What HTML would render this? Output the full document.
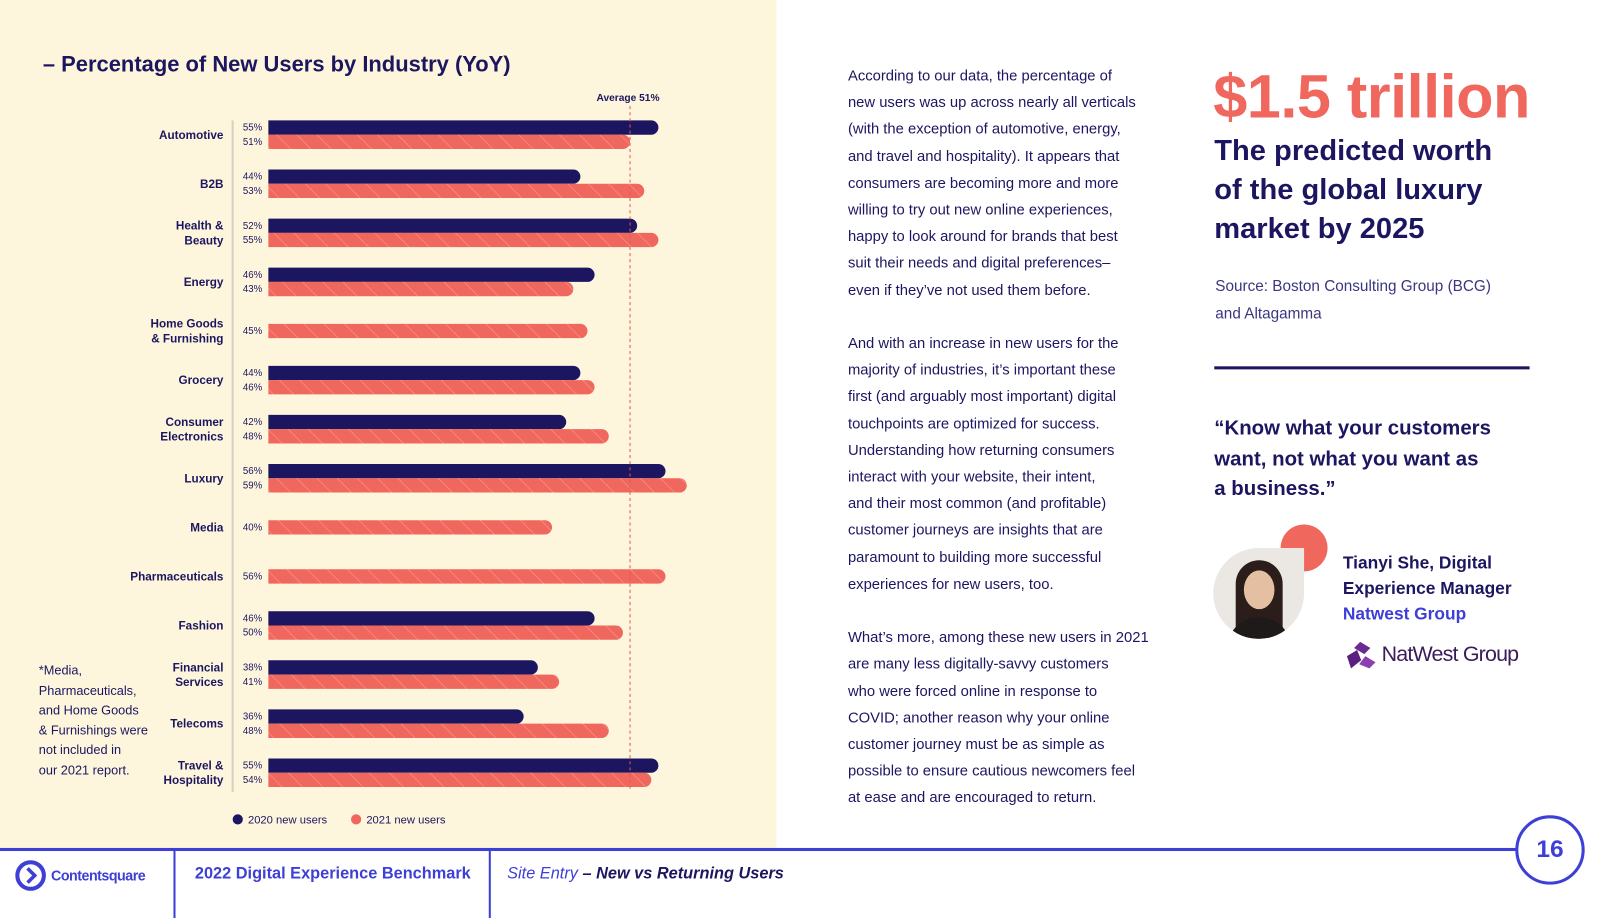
<!DOCTYPE html>
<html><head><meta charset="utf-8"><style>
*{margin:0;padding:0;box-sizing:border-box}
body{width:1600px;height:900px;position:relative;background:#fff;font-family:"Liberation Sans",sans-serif;color:#1c1660;overflow:hidden}
#wrap{position:absolute;left:0;top:0;width:1568px;height:882px;transform:scale(1.0204);transform-origin:0 0}
.abs{position:absolute}
.p{font-size:14.5px;line-height:26.2px;color:#1c1660;white-space:nowrap}
</style></head><body>
<div id="wrap">
<div class="abs" style="left:0;top:0;width:761px;height:832px;background:#fdf6dc"></div>
<div class="abs" style="left:42px;top:51px;font-size:21.5px;font-weight:bold;color:#1c1660">– Percentage of New Users by Industry (YoY)</div>
<svg class="abs" style="left:0;top:0" width="761" height="832">
<defs><pattern id="hatch" width="14" height="14" patternUnits="userSpaceOnUse" patternTransform="rotate(-45)"><rect width="14" height="14" fill="#f0675e"/><line x1="0" y1="0" x2="0" y2="14" stroke="#f6a39b" stroke-width="1"/></pattern></defs>
<g id="g"></g>
</svg>
<div class="abs" style="left:38px;top:648px;font-size:12.5px;line-height:19.6px;color:#1c1660">*Media,<br>Pharmaceuticals,<br>and Home Goods<br>&amp; Furnishings were<br>not included in<br>our 2021 report.</div>
<div class="abs p" style="left:831px;top:62px">According to our data, the percentage of<br>new users was up across nearly all verticals<br>(with the exception of automotive, energy,<br>and travel and hospitality). It appears that<br>consumers are becoming more and more<br>willing to try out new online experiences,<br>happy to look around for brands that best<br>suit their needs and digital preferences–<br>even if they’ve not used them before.<br><br>And with an increase in new users for the<br>majority of industries, it’s important these<br>first (and arguably most important) digital<br>touchpoints are optimized for success.<br>Understanding how returning consumers<br>interact with your website, their intent,<br>and their most common (and profitable)<br>customer journeys are insights that are<br>paramount to building more successful<br>experiences for new users, too.<br><br>What’s more, among these new users in 2021<br>are many less digitally-savvy customers<br>who were forced online in response to<br>COVID; another reason why your online<br>customer journey must be as simple as<br>possible to ensure cautious newcomers feel<br>at ease and are encouraged to return.</div>
<div class="abs" style="left:1189px;top:60px;font-size:60px;font-weight:bold;color:#f0675e;letter-spacing:-0.5px">$1.5 trillion</div>
<div class="abs" style="left:1190px;top:129px;font-size:28.5px;line-height:38px;font-weight:bold;color:#1c1660">The predicted worth<br>of the global luxury<br>market by 2025</div>
<div class="abs" style="left:1191px;top:267px;font-size:15px;line-height:27px;color:#3a3680">Source: Boston Consulting Group (BCG)<br>and Altagamma</div>
<div class="abs" style="left:1190px;top:359px;width:309px;height:3px;background:#1c1660"></div>
<div class="abs" style="left:1190px;top:406px;font-size:20px;line-height:29.5px;font-weight:bold;color:#1c1660">“Know what your customers<br>want, not what you want as<br>a business.”</div>
<div class="abs" style="left:1255px;top:514px;width:46px;height:46px;border-radius:50%;background:#f0675e"></div>
<div class="abs" style="left:1189px;top:537px;width:89px;height:89px;border-radius:50% 0 50% 50%;overflow:hidden;background:#ebe8e3">
<div style="position:absolute;left:22px;top:12px;width:46px;height:80px;border-radius:23px 23px 8px 8px;background:#2a1d1a"></div>
<div style="position:absolute;left:30px;top:22px;width:30px;height:38px;border-radius:50%;background:#e4bfa2"></div>
<div style="position:absolute;left:14px;top:68px;width:62px;height:30px;border-radius:30px 30px 0 0;background:#1e1a1a"></div></div>
<div class="abs" style="left:1316px;top:539px;font-size:17px;line-height:25px;font-weight:bold;color:#1c1660">Tianyi She, Digital<br>Experience Manager<br><span style="color:#3d3fd6">Natwest Group</span></div>
<div class="abs" style="left:1316px;top:627px;height:30px;display:flex;align-items:center">
<svg width="34" height="30"><polygon points="17,2 27,8 21,14 11,8" fill="#6b2c91"/><polygon points="4,16 14,10 18,20 8,28" fill="#5a1f80"/><polygon points="22,16 32,22 26,28 16,24" fill="#8b3fb0"/></svg>
<span style="font-size:21px;color:#3a1c5a;margin-left:4px;letter-spacing:-0.8px">NatWest Group</span></div>
<div class="abs" style="left:0;top:831px;width:1490px;height:3px;background:#3d3fd6"></div>
<div class="abs" style="left:170px;top:833px;width:2px;height:67px;background:#3d3fd6"></div>
<div class="abs" style="left:479px;top:833px;width:2px;height:67px;background:#3d3fd6"></div>
<div class="abs" style="left:14px;top:842px;display:flex;align-items:center;color:#3d3fd6;font-weight:bold;font-size:14px">
<svg width="32" height="32"><circle cx="16" cy="16" r="13" fill="none" stroke="#3d3fd6" stroke-width="4"/><path d="M13 9 L20 16 L13 23" fill="none" stroke="#3d3fd6" stroke-width="3.5"/></svg><span style="margin-left:4px;letter-spacing:-0.5px">Contentsquare</span></div>
<div class="abs" style="left:191px;top:848px;font-size:16px;font-weight:bold;color:#3d3fd6">2022 Digital Experience Benchmark</div>
<div class="abs" style="left:497px;top:848px;font-size:16px;font-style:italic;color:#3d3fd6">Site Entry <b style="color:#1c1660">– New vs Returning Users</b></div>
<div class="abs" style="left:1485px;top:799px;width:68px;height:68px;border:3px solid #3d3fd6;border-radius:50%;background:#fff;text-align:center;line-height:62px;font-size:24px;font-weight:bold;color:#3d3fd6">16</div>
</div>
<script>
const categories=["Automotive","B2B","Health & Beauty","Energy","Home Goods & Furnishing","Grocery","Consumer Electronics","Luxury","Media","Pharmaceuticals","Fashion","Financial Services","Telecoms","Travel & Hospitality"];
const labelLines=[["Automotive"],["B2B"],["Health &","Beauty"],["Energy"],["Home Goods","& Furnishing"],["Grocery"],["Consumer","Electronics"],["Luxury"],["Media"],["Pharmaceuticals"],["Fashion"],["Financial","Services"],["Telecoms"],["Travel &","Hospitality"]];
const users2020=[55,44,52,46,null,44,42,56,null,null,46,38,36,55];
const users2021=[51,53,55,43,45,46,48,59,40,56,50,41,48,54];
const average=51;
const NS="http://www.w3.org/2000/svg",g=document.getElementById("g");
const x0=263,k=6.95,top0=132,step=48.1,bh=14;
const xs=v=>x0+v*k, yc=i=>top0+i*step;
function mk(t,a){const e=document.createElementNS(NS,t);for(const n in a)e.setAttribute(n,a[n]);g.appendChild(e);return e}
let e=mk("line",{x1:228,x2:228,y1:118,y2:776,stroke:"#d6d0c0","stroke-width":2});


function bar(v,y,fill,name){const w=v*k,r=bh/2;
const p=mk("path",{d:`M${x0},${y}H${x0+w-r}A${r},${r} 0 0 1 ${x0+w-r},${y+bh}H${x0}Z`,fill:fill});


const t=mk("text",{x:257,y:y+10,"text-anchor":"end","font-size":9.5,fill:"#1c1660"});t.textContent=v+"%";

}
categories.forEach((c,i)=>{const y=yc(i);
const both=users2020[i]!=null;
if(both){bar(users2020[i],y-bh,"#1c1660","bar-2020");bar(users2021[i],y,"url(#hatch)","bar-2021");}
else bar(users2021[i],y-bh/2,"url(#hatch)","bar-2021");
const L=labelLines[i];L.forEach((s,j)=>{const t=mk("text",{x:219,y:y+4+(j-(L.length-1)/2)*14.5,"text-anchor":"end","font-size":11.5,"font-weight":"bold",fill:"#1c1660"});t.textContent=s;

});
});
e=mk("line",{x1:xs(average),x2:xs(average),y1:104,y2:776,stroke:"#e0574f","stroke-width":1,"stroke-dasharray":"3,3"});


e=mk("text",{x:xs(average)-2,y:99,"text-anchor":"middle","font-size":10,"font-weight":"bold",fill:"#1c1660"});e.textContent="Average "+average+"%";


e=mk("circle",{cx:233,cy:803,r:5,fill:"#1c1660"});


e=mk("text",{x:243,y:807,"font-size":11,fill:"#1c1660"});e.textContent="2020 new users";


e=mk("circle",{cx:349,cy:803,r:5,fill:"#f0675e"});


e=mk("text",{x:359,y:807,"font-size":11,fill:"#1c1660"});e.textContent="2021 new users";


</script>
</body></html>
